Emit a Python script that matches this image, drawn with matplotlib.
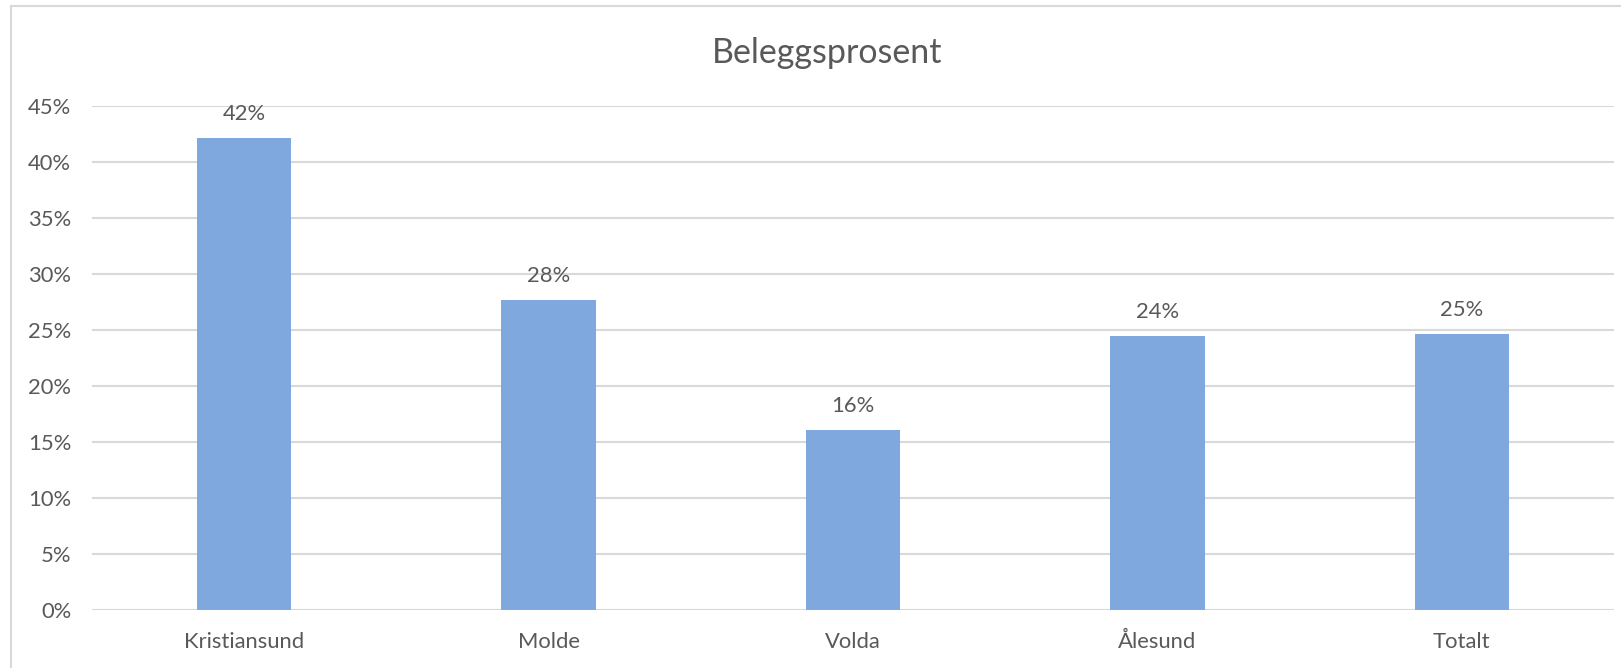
import matplotlib
matplotlib.use("Agg")
import matplotlib.pyplot as plt
from matplotlib.lines import Line2D

categories = ["Kristiansund", "Molde", "Volda", "Ålesund", "Totalt"]
values = [42.1, 27.7, 16.1, 24.5, 24.6]
labels = ["42%", "28%", "16%", "24%", "25%"]
yticks = [0, 5, 10, 15, 20, 25, 30, 35, 40, 45]
ytick_labels = [f"{t}%" for t in yticks]
title = "Beleggsprosent"

plt.rcParams['font.family'] = ['Lato', 'DejaVu Sans']
text_color = "#595959"
grid_color = "#D9D9D9"
bar_color = "#7FA8DF"

W, H = 1621, 668
fig = plt.figure(figsize=(W / 100, H / 100), dpi=100)
ax = fig.add_axes([92 / W, 58 / H, (1614 - 92) / W, (610 - 106) / H])

x = list(range(len(categories)))
bars = ax.bar(x, values, width=0.31, color=bar_color, zorder=3)
ax.set_xlim(-0.5, len(categories) - 0.5)
ax.set_ylim(0, 45)
ax.set_yticks(yticks)
ax.set_yticklabels(ytick_labels)
ax.set_xticks(x)
ax.set_xticklabels(categories)
ax.grid(axis="y", color=grid_color, linewidth=1.5, zorder=0)
for s in ax.spines.values():
    s.set_visible(False)
ax.tick_params(axis="both", length=0, labelsize=15.8, colors=text_color)
ax.tick_params(axis="y", pad=15)
ax.tick_params(axis="x", pad=16)

for xi, v, lab in zip(x, values, labels):
    ax.annotate(lab, (xi, v), xytext=(0, 13), textcoords="offset points",
                ha="center", va="baseline", fontsize=15.8, color=text_color)

fig.text(827 / W, 1 - 53 / H, title, ha="center", va="center",
         fontsize=24.5, color=text_color)

# chart-area border (left and top edges visible)
fig.add_artist(Line2D([11 / W, 11 / W], [0, 1 - 6 / H], transform=fig.transFigure,
                      color=grid_color, linewidth=1.5))
fig.add_artist(Line2D([11 / W, 1], [1 - 6 / H, 1 - 6 / H], transform=fig.transFigure,
                      color=grid_color, linewidth=1.5))

fig.savefig("out.png", dpi=100)
